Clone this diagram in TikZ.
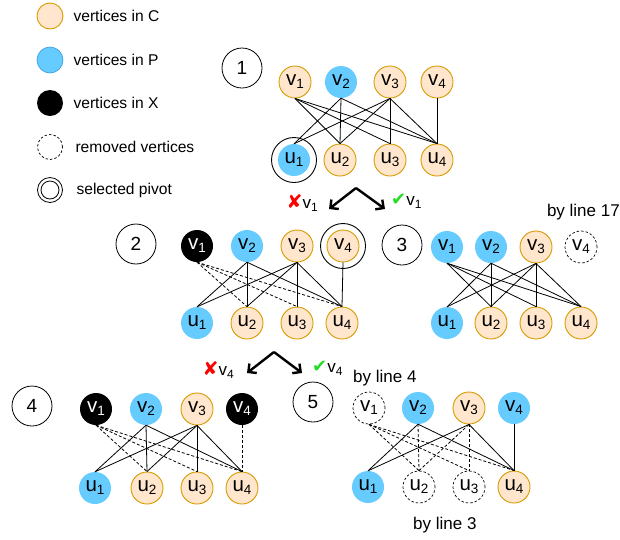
\documentclass[tikz,border=0pt]{standalone}
\usepackage{fontspec}
\setmainfont{Liberation Sans}
\newfontfamily\symfont{DejaVu Sans}
\usetikzlibrary{arrows.meta}
\definecolor{cfill}{HTML}{FFE6CC}
\definecolor{cdraw}{HTML}{D79B00}
\definecolor{pfill}{HTML}{66CCFF}
\definecolor{pdraw}{HTML}{3399DD}
\definecolor{xred}{HTML}{FF0000}
\definecolor{cgreen}{HTML}{22DD22}
\newcommand\vtx[2]{\fontsize{20.5}{20}\selectfont #1\raisebox{-3pt}{\fontsize{13.5}{13}\selectfont #2}}
\newcommand\svtx[2]{\fontsize{17}{16}\selectfont #1\raisebox{-3pt}{\fontsize{12}{11}\selectfont #2}}
\tikzset{
  base/.style={circle, minimum size=32pt, inner sep=0pt},
  cv/.style={base, fill=cfill, draw=cdraw, line width=0.9pt},
  pv/.style={base, fill=pfill},
  xv/.style={base, fill=black, text=white},
  rv/.style={base, draw, dash pattern=on 2.5pt off 2pt, line width=0.7pt},
  stepnum/.style={circle, draw, line width=0.8pt, minimum size=40pt, inner sep=0pt, font=\fontsize{19}{19}\selectfont},
  ed/.style={line width=0.8pt},
  de/.style={line width=0.8pt, dash pattern=on 3pt off 2pt},
  pivring/.style={line width=0.9pt},
  bigarrow/.style={line width=2.4pt, -{Straight Barb[length=6pt,width=12pt]}},
  legtext/.style={anchor=west, font=\fontsize{15.6}{16}\selectfont},
  bytext/.style={font=\fontsize{17}{17}\selectfont},
  crossmark/.style={text=xred, font=\symfont\fontsize{19}{19}\selectfont},
}
\newcommand\crs{{\symfont\fontsize{19}{19}\selectfont\color{xred}✘}}
\newcommand\chk{{\symfont\fontsize{18}{18}\selectfont\color{cgreen}✔}}
\begin{document}
\begin{tikzpicture}[x=1pt,y=-1pt]
\useasboundingbox (0,0) rectangle (620,539);
% legend
\node[cv, minimum size=26pt] (lc) at (50,16) {};
\node[legtext] (lct) at (70,16) {vertices in C};
\node[pv, minimum size=26pt, draw=pdraw, line width=0.6pt] (lp) at (50,60) {};
\node[legtext] (lpt) at (70,60) {vertices in P};
\node[xv, minimum size=26pt] (lx) at (50,103) {};
\node[legtext] (lxt) at (70,103) {vertices in X};
\node[rv, minimum size=25pt] (lr) at (50,147) {};
\node[legtext] (lrt) at (72,147) {removed vertices};
\node[base, draw, line width=0.8pt, minimum size=25pt] (ls) at (50,190) {};
\node[base, draw, line width=0.8pt, minimum size=18pt] (ls2) at (50,190) {};
\node[legtext] (lst) at (73,190) {selected pivot};

% panel 1
\node[stepnum] (s1) at (242,68) {1};
\node[cv] (a1) at (295,82) {\vtx{v}{1}};
\node[pv] (a2) at (341,82) {\vtx{v}{2}};
\node[cv] (a3) at (390,82) {\vtx{v}{3}};
\node[cv] (a4) at (437,82) {\vtx{v}{4}};
\node[pv] (b1) at (294,160) {\vtx{u}{1}};
\node[cv] (b2) at (340,160) {\vtx{u}{2}};
\node[cv] (b3) at (390,160) {\vtx{u}{3}};
\node[cv] (b4) at (437,160) {\vtx{u}{4}};
\draw[pivring] (b1.center) circle (22.5);
\foreach \t/\b in {a1/b2,a1/b3,a1/b4,a2/b1,a2/b2,a2/b4,a3/b1,a3/b2,a3/b3,a3/b4,a4/b4}
  \draw[ed] (\t.south) -- (\b.north);

% arrows 1
\coordinate (p1) at (356,188);
\coordinate (l1) at (329,209);
\coordinate (r1) at (385,209);
\draw[bigarrow] (p1) -- (l1);
\draw[bigarrow] (p1) -- (r1);
\node[anchor=east, inner sep=0pt] (x1) at (318,203) {\crs\svtx{v}{1}};
\node[anchor=west, inner sep=0pt] (c1) at (391,201) {\chk\svtx{v}{1}};

% panel 2
\node[stepnum] (s2) at (136,244) {2};
\node[xv] (c21) at (197,246) {\vtx{v}{1}};
\node[pv] (c22) at (247,246) {\vtx{v}{2}};
\node[cv] (c23) at (297,246) {\vtx{v}{3}};
\node[cv] (c24) at (343,246) {\vtx{v}{4}};
\node[pv] (d21) at (197,323) {\vtx{u}{1}};
\node[cv] (d22) at (247,323) {\vtx{u}{2}};
\node[cv] (d23) at (297,323) {\vtx{u}{3}};
\node[cv] (d24) at (342,323) {\vtx{u}{4}};
\draw[pivring] (c24.center) circle (22.5);
\foreach \t/\b in {c21/d22,c21/d23,c21/d24}
  \draw[de] (\t.south) -- (\b.north);
\foreach \t/\b in {c22/d21,c22/d22,c22/d24,c23/d21,c23/d22,c23/d23,c23/d24,c24/d24}
  \draw[ed] (\t.south) -- (\b.north);

% panel 3
\node[stepnum] (s3) at (402,245) {3};
\node[pv] (e31) at (447,247) {\vtx{v}{1}};
\node[pv] (e32) at (491,247) {\vtx{v}{2}};
\node[cv] (e33) at (536,247) {\vtx{v}{3}};
\node[rv] (e34) at (581,247) {\vtx{v}{4}};
\node[pv] (f31) at (447,323) {\vtx{u}{1}};
\node[cv] (f32) at (491,323) {\vtx{u}{2}};
\node[cv] (f33) at (536,323) {\vtx{u}{3}};
\node[cv] (f34) at (581,323) {\vtx{u}{4}};
\foreach \t/\b in {e31/f32,e31/f33,e31/f34,e32/f31,e32/f32,e32/f34,e33/f31,e33/f32,e33/f33,e33/f34}
  \draw[ed] (\t.south) -- (\b.north);
\node[bytext, anchor=east, inner sep=0pt] (by17) at (620,212) {by line 17};

% arrows 2
\coordinate (p2) at (274,352);
\coordinate (l2) at (247,373);
\coordinate (r2) at (302,373);
\draw[bigarrow] (p2) -- (l2);
\draw[bigarrow] (p2) -- (r2);
\node[anchor=east, inner sep=0pt] (x2) at (234,370) {\crs\svtx{v}{4}};
\node[anchor=west, inner sep=0pt] (c2) at (312,368) {\chk\svtx{v}{4}};

% panel 4
\node[stepnum] (s4) at (32,406) {4};
\node[xv] (g41) at (96,409) {\vtx{v}{1}};
\node[pv] (g42) at (146,409) {\vtx{v}{2}};
\node[cv] (g43) at (197,409) {\vtx{v}{3}};
\node[xv] (g44) at (242,409) {\vtx{v}{4}};
\node[pv] (h41) at (95,488) {\vtx{u}{1}};
\node[cv] (h42) at (147,488) {\vtx{u}{2}};
\node[cv] (h43) at (197,488) {\vtx{u}{3}};
\node[cv] (h44) at (242,488) {\vtx{u}{4}};
\foreach \t/\b in {g41/h42,g41/h43,g41/h44,g44/h44}
  \draw[de] (\t.south) -- (\b.north);
\foreach \t/\b in {g42/h41,g42/h42,g42/h44,g43/h41,g43/h42,g43/h43,g43/h44}
  \draw[ed] (\t.south) -- (\b.north);

% panel 5
\node[stepnum] (s5) at (313,402) {5};
\node[rv] (k51) at (369,408) {\vtx{v}{1}};
\node[pv] (k52) at (418,408) {\vtx{v}{2}};
\node[cv] (k53) at (469,408) {\vtx{v}{3}};
\node[pv] (k54) at (514,408) {\vtx{v}{4}};
\node[pv] (m51) at (368,487) {\vtx{u}{1}};
\node[rv] (m52) at (419,487) {\vtx{u}{2}};
\node[rv] (m53) at (469,487) {\vtx{u}{3}};
\node[cv] (m54) at (514,487) {\vtx{u}{4}};
\foreach \t/\b in {k51/m52,k51/m53,k51/m54,k52/m52,k53/m52,k53/m53}
  \draw[de] (\t.south) -- (\b.north);
\foreach \t/\b in {k52/m51,k52/m54,k53/m51,k53/m54,k54/m54}
  \draw[ed] (\t.south) -- (\b.north);
\node[bytext, anchor=west, inner sep=0pt] (by4) at (353,378) {by line 4};
\node[bytext, anchor=west, inner sep=0pt] (by3) at (413,525) {by line 3};
\end{tikzpicture}
\end{document}
